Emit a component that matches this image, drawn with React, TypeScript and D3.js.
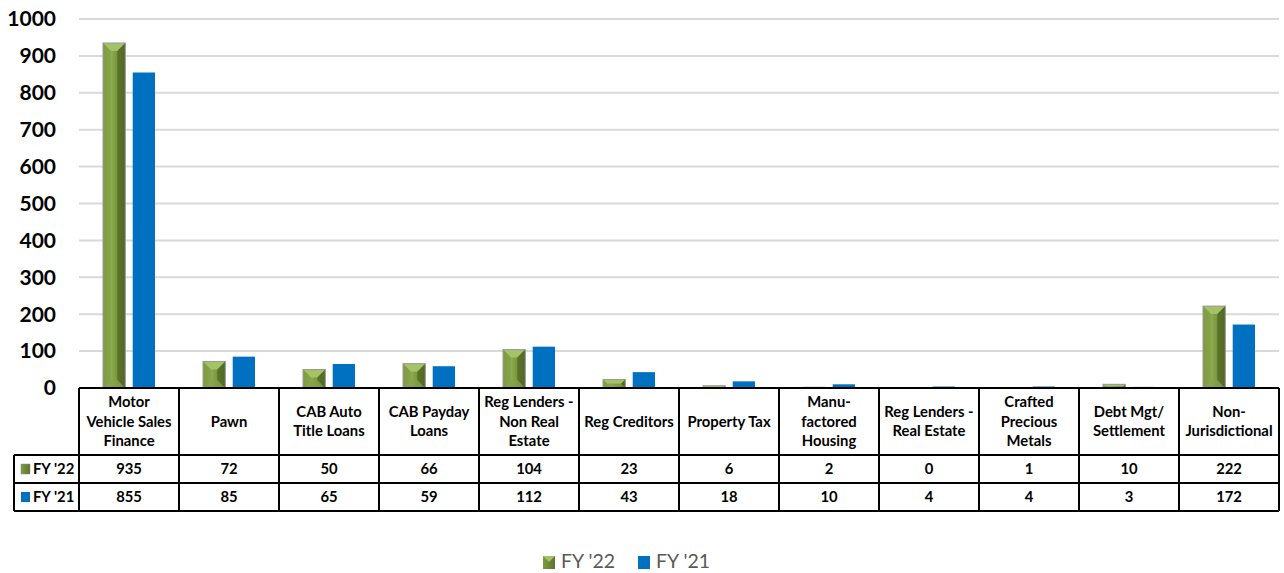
import React from "react";
import * as d3 from "d3";

// Complaint counts by license type, two fiscal years
const categoryLines: string[][] = [
  ["Motor", "Vehicle Sales", "Finance"],
  ["Pawn"],
  ["CAB Auto", "Title Loans"],
  ["CAB Payday", "Loans"],
  ["Reg Lenders -", "Non Real", "Estate"],
  ["Reg Creditors"],
  ["Property Tax"],
  ["Manu-", "factored", "Housing"],
  ["Reg Lenders -", "Real Estate"],
  ["Crafted", "Precious", "Metals"],
  ["Debt Mgt/", "Settlement"],
  ["Non-", "Jurisdictional"],
];
const fy22: number[] = [935, 72, 50, 66, 104, 23, 6, 2, 0, 1, 10, 222];
const fy21: number[] = [855, 85, 65, 59, 112, 43, 18, 10, 4, 4, 3, 172];
const seriesNames: string[] = ["FY '22", "FY '21"];
const yTicks: number[] = [0, 100, 200, 300, 400, 500, 600, 700, 800, 900, 1000];

const W = 1284;
const H = 573;
const plotLeft = 79;
const plotRight = 1279;
const plotTop = 19;
const plotBottom = 388;
const headerBottom = 455;
const row1Bottom = 483;
const row2Bottom = 511;
const tableLeft = 14;

const BLUE = "#0070c0";
const FONT = "Lato, 'Open Sans', sans-serif";
const TABLE_FS = 14.8;

function BevelBar({ x, y, w, h }: { x: number; y: number; w: number; h: number }) {
  if (h <= 0) return null;
  const d = Math.min(8, w / 2, h / 2);
  const x1 = x + w;
  const y1 = y + h;
  return (
    <g>
      <rect x={x} y={y} width={w} height={h} fill="url(#greenBody)" />
      {/* top facet */}
      <polygon
        points={`${x},${y} ${x1},${y} ${x1 - d},${y + d} ${x + d},${y + d}`}
        fill="#a6c267"
      />
      {/* bottom facet */}
      <polygon
        points={`${x},${y1} ${x1},${y1} ${x1 - d},${y1 - d} ${x + d},${y1 - d}`}
        fill="#869f4a"
        opacity={0.7}
      />
      {/* left facet */}
      <polygon
        points={`${x},${y} ${x + d},${y + d} ${x + d},${y1 - d} ${x},${y1}`}
        fill="#7f9b43"
        opacity={0.55}
      />
      {/* right facet */}
      <polygon
        points={`${x1},${y} ${x1 - d},${y + d} ${x1 - d},${y1 - d} ${x1},${y1}`}
        fill="#4f6823"
        opacity={0.75}
      />
      <rect x={x} y={y} width={w} height={h} fill="none" stroke="#9a9a9a" strokeWidth={1} />
    </g>
  );
}

export default function App() {
  const y = d3.scaleLinear().domain([0, 1000]).range([plotBottom, plotTop]);
  const idx = d3.range(categoryLines.length);
  const x0 = d3
    .scaleBand<number>()
    .domain(idx)
    .range([plotLeft, plotRight])
    .padding(0);
  const x1 = d3
    .scaleBand<number>()
    .domain([0, 1])
    .range([24, 76])
    .paddingInner(0.25)
    .paddingOuter(0);
  const bw = x1.bandwidth();
  const colW = x0.bandwidth();

  return (
    <svg width={W} height={H} style={{ position: "absolute", left: 0, top: 0, background: "#fff" }}>
      <defs>
        <linearGradient id="greenBody" x1="0" x2="1" y1="0" y2="0">
          <stop offset="0" stopColor="#7e9b42" />
          <stop offset="0.35" stopColor="#8eae50" />
          <stop offset="0.75" stopColor="#6f8c36" />
          <stop offset="1" stopColor="#51692a" />
        </linearGradient>
        <linearGradient id="legendGreen" x1="0" x2="1" y1="0" y2="0">
          <stop offset="0" stopColor="#7e9b42" />
          <stop offset="1" stopColor="#5a7530" />
        </linearGradient>
      </defs>

      {/* gridlines */}
      {yTicks
        .filter((t) => t > 0)
        .map((t) => (
          <line
            key={t}
            x1={plotLeft}
            x2={plotRight}
            y1={y(t)}
            y2={y(t)}
            stroke="#d9d9d9"
            strokeWidth={2}
          />
        ))}

      {/* y tick labels */}
      {yTicks.map((t) => (
        <text
          key={t}
          x={56}
          y={y(t)}
          dy="0.35em"
          textAnchor="end"
          fontFamily={FONT}
          fontWeight={700}
          fontSize={21}
          fill="#000"
        >
          {t}
        </text>
      ))}

      {/* bars */}
      {idx.map((i) => {
        const gx = x0(i)!;
        const g = fy22[i];
        const b = fy21[i];
        return (
          <g key={i}>
            <BevelBar x={gx + x1(0)!} y={y(g)} w={bw} h={plotBottom - y(g)} />
            {b > 0 && (
              <rect x={gx + x1(1)!} y={y(b)} width={bw} height={plotBottom - y(b)} fill={BLUE} />
            )}
          </g>
        );
      })}

      {/* data table */}
      <g stroke="#000" strokeWidth={2} fill="none">
        <line x1={plotLeft} x2={plotRight} y1={plotBottom} y2={plotBottom} />
        <line x1={tableLeft} x2={plotRight} y1={headerBottom} y2={headerBottom} />
        <line x1={tableLeft} x2={plotRight} y1={row1Bottom} y2={row1Bottom} />
        <line x1={tableLeft} x2={plotRight} y1={row2Bottom} y2={row2Bottom} />
        <line x1={tableLeft} x2={tableLeft} y1={headerBottom} y2={row2Bottom} />
        {idx.map((i) => (
          <line key={i} x1={x0(i)!} x2={x0(i)!} y1={plotBottom} y2={row2Bottom} />
        ))}
        <line x1={plotRight} x2={plotRight} y1={plotBottom} y2={row2Bottom} />
      </g>

      {/* category headers */}
      {idx.map((i) => {
        const lines = categoryLines[i];
        const cx = x0(i)! + colW / 2;
        const lh = 19.5;
        const midY = (plotBottom + headerBottom) / 2;
        const startY = midY - ((lines.length - 1) * lh) / 2;
        return (
          <text
            key={i}
            textAnchor="middle"
            fontFamily={FONT}
            fontWeight={700}
            fontSize={TABLE_FS}
            fill="#000"
          >
            {lines.map((l, k) => (
              <tspan key={k} x={cx} y={startY + k * lh} dy="0.35em">
                {l}
              </tspan>
            ))}
          </text>
        );
      })}

      {/* value rows */}
      {[fy22, fy21].map((vals, r) => {
        const rowMid = r === 0 ? (headerBottom + row1Bottom) / 2 : (row1Bottom + row2Bottom) / 2;
        return (
          <g key={r}>
            {r === 0 ? (
              <rect x={21} y={rowMid - 5} width={9} height={10} fill="url(#legendGreen)" stroke="#8a8a8a" strokeWidth={0.5} />
            ) : (
              <rect x={21} y={rowMid - 5} width={9} height={10} fill={BLUE} />
            )}
            <text
              x={33}
              y={rowMid}
              dy="0.35em"
              fontFamily={FONT}
              fontWeight={700}
              fontSize={TABLE_FS}
              fill="#000"
            >
              {seriesNames[r]}
            </text>
            {vals.map((v, i) => (
              <text
                key={i}
                x={x0(i)! + colW / 2}
                y={rowMid}
                dy="0.35em"
                textAnchor="middle"
                fontFamily={FONT}
                fontWeight={700}
                fontSize={TABLE_FS}
                fill="#000"
              >
                {v}
              </text>
            ))}
          </g>
        );
      })}

      {/* legend */}
      <g>
        <rect x={543} y={556} width={12} height={13} fill="url(#legendGreen)" />
        <polygon points="543,556 555,556 549,562" fill="#a6c267" />
        <text x={561} y={561} dy="0.35em" fontFamily={FONT} fontSize={19.5} fill="#595959">
          {seriesNames[0]}
        </text>
        <rect x={638} y={556} width={12} height={13} fill={BLUE} />
        <text x={656} y={561} dy="0.35em" fontFamily={FONT} fontSize={19.5} fill="#595959">
          {seriesNames[1]}
        </text>
      </g>
    </svg>
  );
}
